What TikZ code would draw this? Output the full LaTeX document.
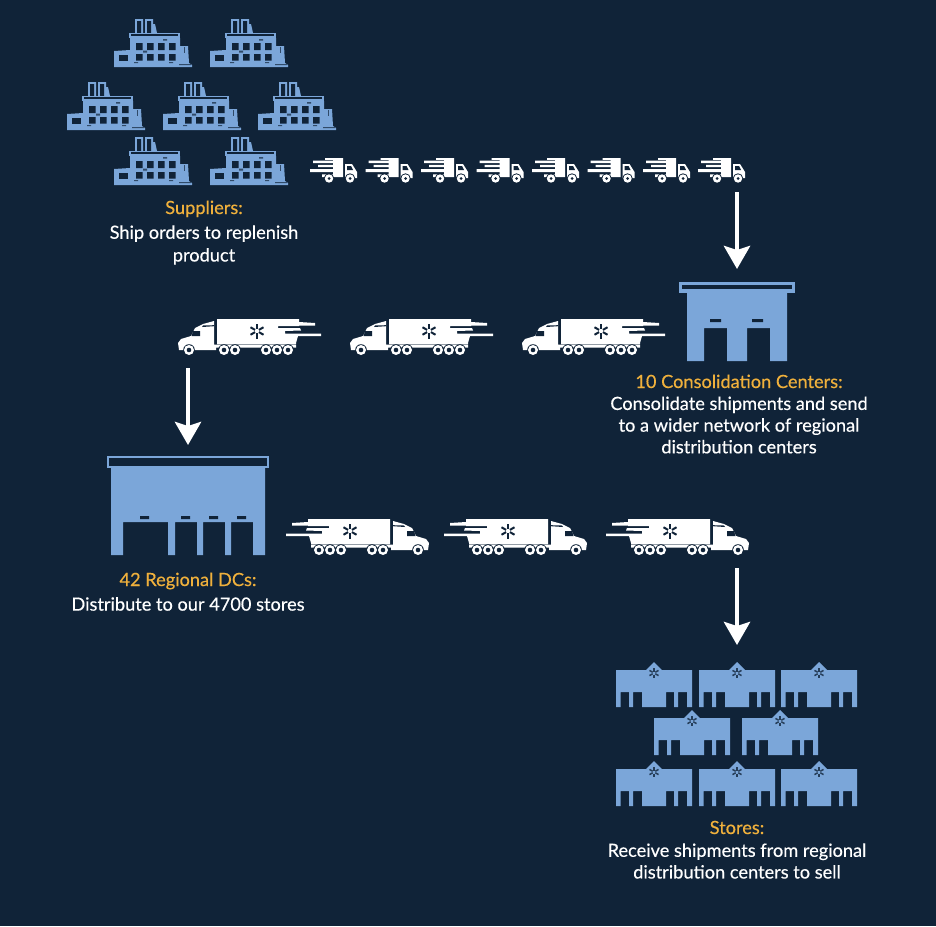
\documentclass[tikz,border=0pt]{standalone}
\usepackage{fontspec}
\setmainfont{Lato}[FakeBold=0.4]
\usetikzlibrary{arrows.meta}
\definecolor{bgc}{HTML}{102338}
\definecolor{bluec}{HTML}{7BA6D9}
\definecolor{goldc}{HTML}{EFB03C}
\tikzset{
  x=1pt,y=-1pt,
  txt/.style={text=white,font=\fontsize{18.2}{21.7}\selectfont\addfontfeature{FakeBold=0.4},align=center,anchor=center,inner sep=0pt},
  gold/.style={text=goldc,font=\fontsize{18.2}{21.7}\selectfont\addfontfeature{FakeBold=0.4},anchor=base,inner sep=0pt},
  flowarrow/.style={draw=white,line width=4.5pt,-{Stealth[length=23pt,width=26pt,inset=4pt]}},
  pics/factory/.style={code={
    \fill[bluec] (21,0) rectangle (29,14) (31,0) rectangle (39,14);
    \fill[bluec] (39,5) -- (41,5) -- (43,14) -- (39,14) -- cycle;
    \fill[bgc] (23,2) rectangle (27,14) (33,2) rectangle (37,14);
    \fill[bluec] (15,14) rectangle (66,19);
    \fill[bgc] (17,15) rectangle (64,17.2);
    \fill[bluec] (16,19) -- (66,19) -- (66,27) -- (74,27) -- (75,44) -- (78,46) -- (78,48) -- (0,48) -- (0,32) -- (16,31) -- cycle;
    \fill[bgc] (4.5,36) rectangle (14,42);
    \foreach \wx in {22,33,44,55}{\fill[bgc] (\wx,24) rectangle +(6.5,7) (\wx,35) rectangle +(6.5,6.5);}
    \fill[bgc!70!bluec] (49,20) rectangle (53,21.5) (29,31.5) rectangle (33,33.5);
    \fill[bgc!70!bluec] (20,43) rectangle (24,44.2) (55,43) rectangle (59,44.2) (65,45) rectangle (77,46);
    \fill[bgc!70!bluec] (70,28) rectangle (71,34);
  }},
  pics/smalltruck/.style={code={
    \fill[white] (15,0) -- (33,0) -- (33,19) -- (12,19) -- (12,16.3) -- (23,16.3) -- (23,1.8) -- (15,1.8) -- cycle;
    \fill[white] (3,2.5) rectangle (25,5) (8,6.8) rectangle (25,9.2) (0,11) rectangle (24,14);
    \fill[white] (35,6) -- (42,6) -- (47,14) -- (47,20) -- (35,20) -- cycle;
    \fill[bgc] (37,8) -- (41,8) -- (43,12) -- (37,12) -- cycle;
    \foreach \wx in {19,40}{\fill[bgc] (\wx,20.5) circle (5.2); \fill[white] (\wx,20.5) circle (4.2); \fill[bgc] (\wx,20.5) circle (1.5);}
  }},
  pics/bigtruck/.style={code={
    \fill[white] (39,0) -- (121,0) -- (121,3) -- (137,4) -- (137,6.5) -- (121,6.5) -- (121,7) -- (100,7) -- (100,9) -- (122,9) -- (123,11.5) -- (107,12) -- (107,14.5) -- (143,14.5) -- (143,17) -- (120,17) -- (118,24) -- (118,25) -- (39,25) -- cycle;
    \fill[white] (36,2) -- (25,5) -- (17,9) -- (13,17) -- (3,20) -- (0,24) -- (1,31) -- (38,31) -- (38,28.5) -- (118,28.5) -- (118,25.5) -- (36,25.5) -- cycle;
    \fill[bgc!45!white] (39,24.8) rectangle (118,25.6);
    \fill[bgc] (15,12) -- (22,12) -- (22,17) -- (13.5,17) -- cycle;
    \fill[bgc] (25,6.5) -- (36,6.2) -- (36,7.2) -- (24,8) -- cycle;
    \foreach \wx in {11,46,57,88,99,110}{\fill[bgc] (\wx,31) circle (5.8); \fill[white] (\wx,31) circle (5); \fill[bgc] (\wx,31) circle (2.3);}
    \foreach \wa in {90,150,210,270,330,30}{\draw[bgc,line width=2pt] ([shift={(79,12)}]\wa:2.2pt) -- ([shift={(79,12)}]\wa:7.5pt);}
  }},
  pics/store/.style={code={
    \fill[bluec] (0,0) -- (30,0) -- (38,-8) -- (46,0) -- (76,0) -- (76,37) -- (71,37) -- (71,22) -- (62,22) -- (62,37) -- (58,37) -- (58,22) -- (50,22) -- (50,37) -- (26,37) -- (26,22) -- (17,22) -- (17,37) -- (13,37) -- (13,22) -- (4.5,22) -- (4.5,37) -- (0,37) -- cycle;
    \foreach \wa in {90,150,210,270,330,30}{\draw[bgc!80!bluec,line width=1.5pt] ([shift={(38,3)}]\wa:1.5pt) -- ([shift={(38,3)}]\wa:5.2pt);}
  }},
}
\begin{document}
\begin{tikzpicture}
\useasboundingbox (0,0) rectangle (936,926);
\fill[bgc] (0,0) rectangle (936,926);

% factories
\foreach \px/\py in {114/19,210/19,67/82,163/82,258/82,114/137,210/137}{\pic at (\px,\py) {factory};}
% small trucks
\foreach \px in {310,365.5,421,476.5,532,587.5,643,698}{\pic at (\px,158) {smalltruck};}
% consolidation centre
\fill[bluec] (679,282) rectangle (795,293);
\fill[bgc] (682,285) rectangle (792,289);
\fill[bluec] (687,293) -- (787,293) -- (787,361) -- (770,361) -- (770,328) -- (747,328) -- (747,361) -- (727,361) -- (727,328) -- (704,328) -- (704,361) -- (687,361) -- cycle;
\fill[bgc] (710,319) rectangle (721,322) (752,319) rectangle (763,322);
% big trucks facing left
\foreach \px in {178,350,522}{\pic at (\px,319) {bigtruck};}
% big trucks facing right
\foreach \px in {285,443,605}{\pic[xscale=-1] at (\px+144,519) {bigtruck};}
% regional DC
\fill[bluec] (107,456) rectangle (269,468);
\fill[bgc] (109,457.5) rectangle (267,466);
\fill[bluec] (111,468) -- (265,468) -- (265,555) -- (253,555) -- (253,522) -- (231,522) -- (231,555) -- (225,555) -- (225,522) -- (203,522) -- (203,555) -- (197,555) -- (197,522) -- (175,522) -- (175,555) -- (168,555) -- (168,522) -- (123,522) -- (123,555) -- (111,555) -- cycle;
\fill[bgc] (140,516) rectangle (149,519) (181,516) rectangle (190,519) (209,516) rectangle (218,519) (237,516) rectangle (246,519);
% stores
\foreach \px/\py in {616/670,699/670,781/670,654/718,742/718,616/769,699/769,781/769}{\pic at (\px,\py) {store};}

% connector ends
\coordinate (a1) at (737,192); \coordinate (a2) at (737,269);
\coordinate (b1) at (188,368); \coordinate (b2) at (188,445);
\coordinate (c1) at (737,568); \coordinate (c2) at (737,645);
\draw[flowarrow] (a1) -- (a2);
\draw[flowarrow] (b1) -- (b2);
\draw[flowarrow] (c1) -- (c2);

% labels
\node[gold] (l1) at (204,214) {Suppliers:};
\node[txt] (l2) at (204,245) {Ship orders to replenish\\[1pt]product};
\node[gold] (l3) at (739,388) {10 Consolidation Centers:};
\node[txt] (l4) at (739,425) {Consolidate shipments and send\\to a wider network of regional\\distribution centers};
\node[gold] (l5) at (188,586) {42 Regional DCs:};
\node[txt] (l6) at (188,604) {Distribute to our 4700 stores};
\node[gold] (l7) at (737,834) {Stores:};
\node[txt] (l8) at (737,861) {Receive shipments from regional\\distribution centers to sell};
\end{tikzpicture}
\end{document}
